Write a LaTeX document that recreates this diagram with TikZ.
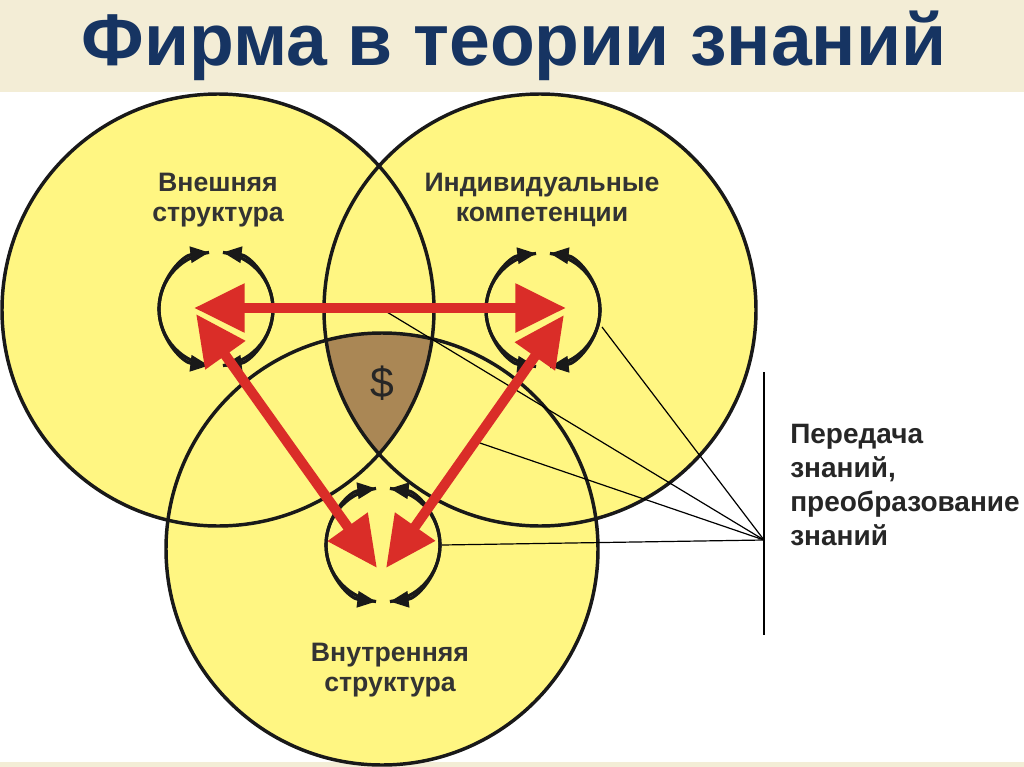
\documentclass[tikz,border=0pt]{standalone}
\usepackage{fontspec}
\setmainfont{Liberation Sans}
\usetikzlibrary{arrows.meta}
\definecolor{yel}{RGB}{255,246,130}
\definecolor{brn}{RGB}{170,135,85}
\definecolor{redA}{RGB}{218,45,40}
\definecolor{navy}{RGB}{22,52,98}
\definecolor{beige}{RGB}{243,237,214}
\begin{document}
\begin{tikzpicture}[x=0.75pt,y=-0.75pt,
  bigc/.style={draw=black!90,line width=2.6pt},
  loopc/.style={draw=black!90,line width=2.4pt,-{Triangle[length=14pt,width=12pt]}},
  redarr/.style={draw=redA,line width=7.5pt,{Triangle[length=38pt,width=35pt]}-{Triangle[length=38pt,width=35pt]}},
  thin/.style={draw=black,line width=0.9pt},
  lbl/.style={font=\bfseries\fontsize{20}{23}\selectfont,text=black!80,align=center}]
\useasboundingbox (0,0) rectangle (1024,767);
\fill[white] (0,0) rectangle (1024,767);
\fill[beige] (0,0) rectangle (1024,92);
\fill[beige] (0,762) rectangle (1024,767);
\node (title) [font=\bfseries\fontsize{55}{60}\selectfont,text=navy] at (514,46) {Фирма в теории знаний};
% circles
\coordinate (A) at (218,310);
\coordinate (B) at (540,310);
\coordinate (C) at (382,549);
\fill[yel] (A) circle (216);
\fill[yel] (B) circle (216);
\fill[yel] (C) circle (216);
\begin{scope}
\clip (A) circle (216);
\clip (B) circle (216);
\fill[brn] (C) circle (216);
\end{scope}
\draw[bigc] (A) circle (216);
\draw[bigc] (B) circle (216);
\draw[bigc] (C) circle (216);
\node (dollar) [font=\fontsize{32}{36}\selectfont\rmfamily,text=black!85] at (382,383) {\$};
% labels
\node (la) [lbl] at (218,200) {Внешняя\\структура};
\node (lb) [lbl] at (542,200) {Индивидуальные\\компетенции};
\node (lc) [lbl] at (390,670) {Внутренняя\\структура};
% thin lines
\coordinate (fan) at (764,540);
\coordinate (vt) at (764,372);
\coordinate (vb) at (764,635);
\draw[thin] (vt) -- (vb);
\coordinate (p1) at (602,327);
\coordinate (p2) at (377,306);
\coordinate (p3) at (477,442);
\coordinate (p4) at (442,545);
\draw[thin] (p1) -- (fan);
\draw[thin] (p2) -- (fan);
\draw[thin] (p3) -- (fan);
\draw[thin] (p4) -- (fan);
\node (tr) [font=\bfseries\fontsize{21}{25.5}\selectfont,text=black!85,align=left,anchor=north west,inner sep=0pt] at (790,424) {Передача\\знаний,\\преобразование\\знаний};
% loops
\foreach \n/\cx/\cy in {la/216/309,lb/543/310,lc/383/545}{
  \draw[loopc] (\cx,\cy) ++(97:57) arc[start angle=97,end angle=263,radius=57];
  \draw[loopc] (\cx,\cy) ++(-97:57) arc[start angle=263,end angle=97,radius=57];
  \draw[loopc] (\cx,\cy) ++(-83:57) arc[start angle=-83,end angle=83,radius=57];
  \draw[loopc] (\cx,\cy) ++(83:57) arc[start angle=83,end angle=-83,radius=57];
}
% red arrows
\coordinate (rl) at (194,308);
\coordinate (rr) at (566,308);
\coordinate (dl) at (196,314);
\coordinate (dr) at (564,315);
\coordinate (bl) at (377,568);
\coordinate (br) at (386,568);
\draw[redarr] (rl) -- (rr);
\draw[redarr] (dl) -- (bl);
\draw[redarr] (dr) -- (br);
\end{tikzpicture}
\end{document}
